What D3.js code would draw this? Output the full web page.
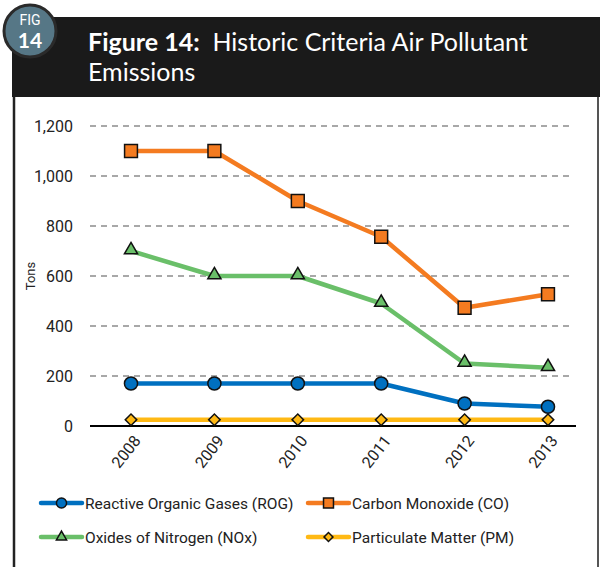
<!DOCTYPE html>
<html><head><meta charset="utf-8">
<script src="https://cdn.jsdelivr.net/npm/d3@7"></script>
<style>body{margin:0;background:#fff}svg{display:block}</style>
</head><body><svg id="c" width="600" height="567"></svg>
<script>
const years = ["2008","2009","2010","2011","2012","2013"];
const rog = [170,170,170,170,90,77];
const co = [1100,1100,900,757,473,527];
const nox = [700,600,600,490,250,233];
const pm = [25,25,25,25,25,25];
const yTicks = [0,200,400,600,800,1000,1200];
const seriesNames = ["Reactive Organic Gases (ROG)","Carbon Monoxide (CO)","Oxides of Nitrogen (NOx)","Particulate Matter (PM)"];

const series = [
  {name:seriesNames[0], values:rog, color:"#0070c0", sym:d3.symbolCircle, size:135, rot:0},
  {name:seriesNames[1], values:co, color:"#f47b20", sym:d3.symbolSquare, size:165, rot:0},
  {name:seriesNames[2], values:nox, color:"#6abf69", sym:d3.symbolTriangle, size:75, rot:0},
  {name:seriesNames[3], values:pm, color:"#ffb914", sym:d3.symbolSquare, size:66, rot:45}
];
const font = "Roboto, 'DejaVu Sans', sans-serif";
const svg = d3.select("#c");

// frame
svg.append("rect").attr("x",12).attr("y",17).attr("width",588).attr("height",80).attr("fill","#1a1a1a");
svg.append("line").attr("x1",14).attr("x2",14).attr("y1",97).attr("y2",567).attr("stroke","#222").attr("stroke-width",2.5);
svg.append("line").attr("x1",598).attr("x2",598).attr("y1",97).attr("y2",567).attr("stroke","#555").attr("stroke-width",2);

// badge
svg.append("circle").attr("cx",30).attr("cy",31).attr("r",26).attr("fill","#567786").attr("stroke","#2a2a2a").attr("stroke-width",3);
svg.append("text").attr("x",30).attr("y",25).attr("text-anchor","middle").attr("fill","#fff")
  .style("font-family",font).style("font-size","14px").text("FIG");
svg.append("text").attr("x",30).attr("y",48).attr("text-anchor","middle").attr("fill","#fff")
  .style("font-family","Lato, sans-serif").style("font-size","21px").style("font-weight","bold").text("14");

// title
const t = svg.append("text").attr("x",88).attr("y",51).attr("fill","#fff")
  .style("font-family","Lato, 'Open Sans', sans-serif").style("font-size","25px");
t.append("tspan").style("font-weight","bold").text("Figure 14:");
t.append("tspan").text("\u00a0 Historic Criteria Air Pollutant");
svg.append("text").attr("x",88).attr("y",81).attr("fill","#fff")
  .style("font-family","Lato, 'Open Sans', sans-serif").style("font-size","25px").text("Emissions");

// scales
const x = d3.scalePoint().domain(years).range([131,548]);
const y = d3.scaleLinear().domain([0,1200]).range([426,126]);

// grid
svg.append("g").selectAll("line").data(yTicks.filter(d=>d>0)).join("line")
  .attr("x1",90).attr("x2",574).attr("y1",d=>y(d)).attr("y2",d=>y(d))
  .attr("stroke","#8c8c8c").attr("stroke-width",1.5).attr("stroke-dasharray","6,5");

// y axis labels
const yAxis = svg.append("g").attr("transform","translate(80,0)")
  .call(d3.axisLeft(y).tickValues(yTicks).tickFormat(d3.format(",")).tickSize(0).tickPadding(7));
yAxis.select(".domain").remove();
yAxis.selectAll("text").style("font-family",font).style("font-size","16px").attr("fill","#222");

// baseline
svg.append("line").attr("x1",90).attr("x2",576).attr("y1",y(0)).attr("y2",y(0)).attr("stroke","#000").attr("stroke-width",2);

// x axis labels
const xAxis = svg.append("g").attr("transform","translate(0,"+y(0)+")")
  .call(d3.axisBottom(x).tickSize(0).tickPadding(0));
xAxis.select(".domain").remove();
xAxis.selectAll("text").style("font-family",font).style("font-size","16px").attr("fill","#222")
  .attr("text-anchor","end").attr("dy",0)
  .attr("transform","translate(10,15) rotate(-52)");

// Tons
svg.append("text").attr("transform","translate(35,276) rotate(-90)").attr("text-anchor","middle")
  .style("font-family",font).style("font-size","13px").attr("fill","#222").text("Tons");

// lines
const line = d3.line().x((d,i)=>x(years[i])).y(d=>y(d));
const order = [3,0,2,1];
order.forEach(k=>{
  const s = series[k];
  svg.append("path").datum(s.values).attr("d",line).attr("fill","none")
    .attr("stroke",s.color).attr("stroke-width",4.5).attr("stroke-linejoin","round");
  svg.append("g").selectAll("path").data(s.values).join("path")
    .attr("transform",(d,i)=>"translate("+x(years[i])+","+(y(d)+(s.sym===d3.symbolTriangle?-1:0))+") rotate("+s.rot+")")
    .attr("d",d3.symbol().type(s.sym).size(s.size))
    .attr("fill",s.color).attr("stroke","#111").attr("stroke-width",1.5);
});

// legend
const legPos = [[41,503],[308,503],[41,537],[308,537]];
series.forEach((s,i)=>{
  const [lx,ly] = legPos[i];
  const g = svg.append("g").attr("transform","translate("+lx+","+ly+")");
  g.append("line").attr("x1",0).attr("x2",41).attr("y1",0).attr("y2",0).attr("stroke",s.color).attr("stroke-width",4.5).attr("stroke-linecap","round");
  g.append("path").attr("transform","translate(20.5,0) rotate("+s.rot+")").attr("d",d3.symbol().type(s.sym).size(s.size*0.6))
    .attr("fill",s.color).attr("stroke","#111").attr("stroke-width",1.5);
  g.append("text").attr("x",44).attr("y",6).style("font-family",font).style("font-size","15.5px").attr("fill","#222").text(s.name);
});
</script></body></html>
